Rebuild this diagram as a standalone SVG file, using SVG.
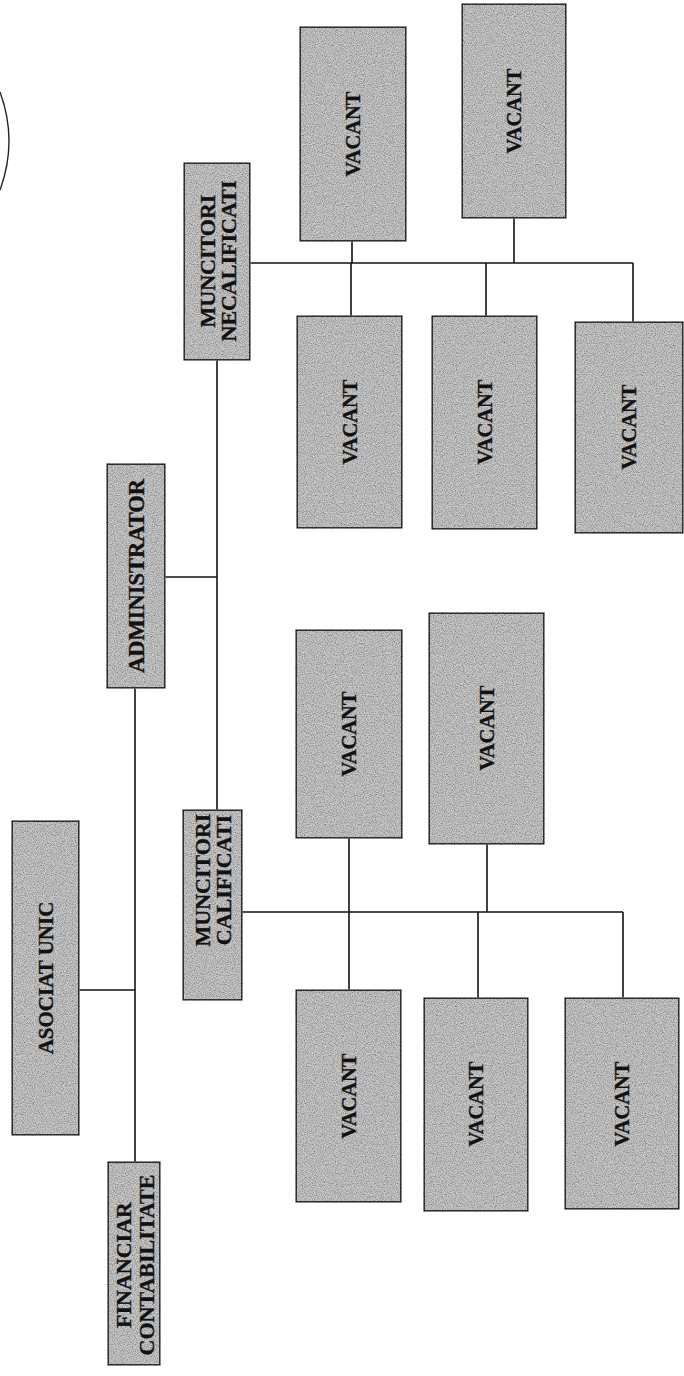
<svg xmlns="http://www.w3.org/2000/svg" width="684" height="1376" viewBox="0 0 684 1376">
  <style>
    .box { fill: #cdcdcd; stroke: #111; stroke-width: 1.6; filter: url(#grain); }
    .lbl { font-family: "Liberation Serif", "Times New Roman", serif; font-weight: bold; fill: #121212; stroke: #121212; stroke-width: 0.35; text-anchor: middle; dominant-baseline: central; }
    .v { font-size: 20.5px; }
    .m { font-size: 21px; }
    .two { font-size: 22px; }
    .wire { fill: none; stroke: #111; stroke-width: 1.6; }
  </style>
  <defs>
    <!-- grainy grey fill for the boxes -->
    <filter id="grain" x="-2%" y="-2%" width="104%" height="104%">
      <feTurbulence type="fractalNoise" baseFrequency="0.9" numOctaves="2" seed="7" result="noise"/>
      <feColorMatrix in="noise" type="matrix" values="1.3 0 0 0 0.12  1.3 0 0 0 0.12  1.3 0 0 0 0.12  0 0 0 0 1" result="grey"/>
      <feBlend in="SourceGraphic" in2="grey" mode="multiply" result="mix"/>
      <feComposite in="mix" in2="SourceAlpha" operator="in"/>
    </filter>
  </defs>

  <rect width="684" height="1376" fill="#ffffff"/>

  <!-- edge of a stamp circle -->
  <path d="M0,92 Q18,141 0,190" fill="none" stroke="#222" stroke-width="1.4"/>

  <g id="connectors">
    <path class="wire" d="M79,990 H135"/>
    <path class="wire" d="M135,688 V1162"/>
    <path class="wire" d="M165,577 H217"/>
    <path class="wire" d="M217,360 V810"/>
    <!-- unskilled workers branch -->
    <path class="wire" d="M250,263 H633"/>
    <path class="wire" d="M352,241 V263"/>
    <path class="wire" d="M514,218 V263"/>
    <path class="wire" d="M351,263 V316"/>
    <path class="wire" d="M486,263 V316"/>
    <path class="wire" d="M633,263 V322"/>
    <!-- skilled workers branch -->
    <path class="wire" d="M242,912 H623"/>
    <path class="wire" d="M349,838 V912"/>
    <path class="wire" d="M487,844 V912"/>
    <path class="wire" d="M349,912 V990"/>
    <path class="wire" d="M478,912 V998"/>
    <path class="wire" d="M623,912 V998"/>
  </g>

  <g id="asociat-unic">
    <rect class="box" x="12" y="821" width="67" height="314"/>
    <text class="lbl m" x="45.5" y="978" transform="rotate(-90 45.5 978)">ASOCIAT UNIC</text>
  </g>

  <g id="financiar-contabilitate">
    <rect class="box" x="108" y="1162" width="52" height="203"/>
    <text class="lbl two" transform="rotate(-90 134 1265)" x="134" y="1265"><tspan x="134" dy="-11.5">FINANCIAR</tspan><tspan x="134" dy="23">CONTABILITATE</tspan></text>
  </g>

  <g id="administrator">
    <rect class="box" x="107" y="464" width="58" height="224"/>
    <text class="lbl" style="font-size:22.5px" x="136" y="576" transform="rotate(-90 136 576)">ADMINISTRATOR</text>
  </g>

  <g id="muncitori-calificati">
    <rect class="box" x="183" y="810" width="59" height="190"/>
    <text class="lbl two" transform="rotate(-90 212.5 880)" x="212.5" y="880"><tspan x="212.5" dy="-10.5">MUNCITORI</tspan><tspan x="212.5" dy="21">CALIFICATI</tspan></text>
  </g>

  <g id="muncitori-necalificati">
    <rect class="box" x="184" y="163" width="66" height="197"/>
    <text class="lbl two" transform="rotate(-90 217 261)" x="217" y="261"><tspan x="217" dy="-10.5">MUNCITORI</tspan><tspan x="217" dy="21">NECALIFICATI</tspan></text>
  </g>

  <g id="vacant-n1">
    <rect class="box" x="300" y="27" width="106" height="214"/>
    <text class="lbl v" x="353" y="134" transform="rotate(-90 353 134)">VACANT</text>
  </g>
  <g id="vacant-n2">
    <rect class="box" x="462" y="4" width="104" height="214"/>
    <text class="lbl v" x="514" y="111" transform="rotate(-90 514 111)">VACANT</text>
  </g>
  <g id="vacant-n3">
    <rect class="box" x="297" y="316" width="105" height="212"/>
    <text class="lbl v" x="349.5" y="422" transform="rotate(-90 349.5 422)">VACANT</text>
  </g>
  <g id="vacant-n4">
    <rect class="box" x="432" y="316" width="105" height="213"/>
    <text class="lbl v" x="484.5" y="422" transform="rotate(-90 484.5 422)">VACANT</text>
  </g>
  <g id="vacant-n5">
    <rect class="box" x="575" y="322" width="108" height="211"/>
    <text class="lbl v" x="629" y="427" transform="rotate(-90 629 427)">VACANT</text>
  </g>

  <g id="vacant-c1">
    <rect class="box" x="296" y="630" width="106" height="208"/>
    <text class="lbl v" x="349" y="734" transform="rotate(-90 349 734)">VACANT</text>
  </g>
  <g id="vacant-c2">
    <rect class="box" x="429" y="613" width="115" height="231"/>
    <text class="lbl v" x="486.5" y="728" transform="rotate(-90 486.5 728)">VACANT</text>
  </g>
  <g id="vacant-c3">
    <rect class="box" x="296" y="990" width="105" height="212"/>
    <text class="lbl v" x="348.5" y="1096" transform="rotate(-90 348.5 1096)">VACANT</text>
  </g>
  <g id="vacant-c4">
    <rect class="box" x="424" y="998" width="104" height="213"/>
    <text class="lbl v" x="476" y="1104" transform="rotate(-90 476 1104)">VACANT</text>
  </g>
  <g id="vacant-c5">
    <rect class="box" x="565" y="998" width="114" height="211"/>
    <text class="lbl v" x="622" y="1104" transform="rotate(-90 622 1104)">VACANT</text>
  </g>
</svg>
